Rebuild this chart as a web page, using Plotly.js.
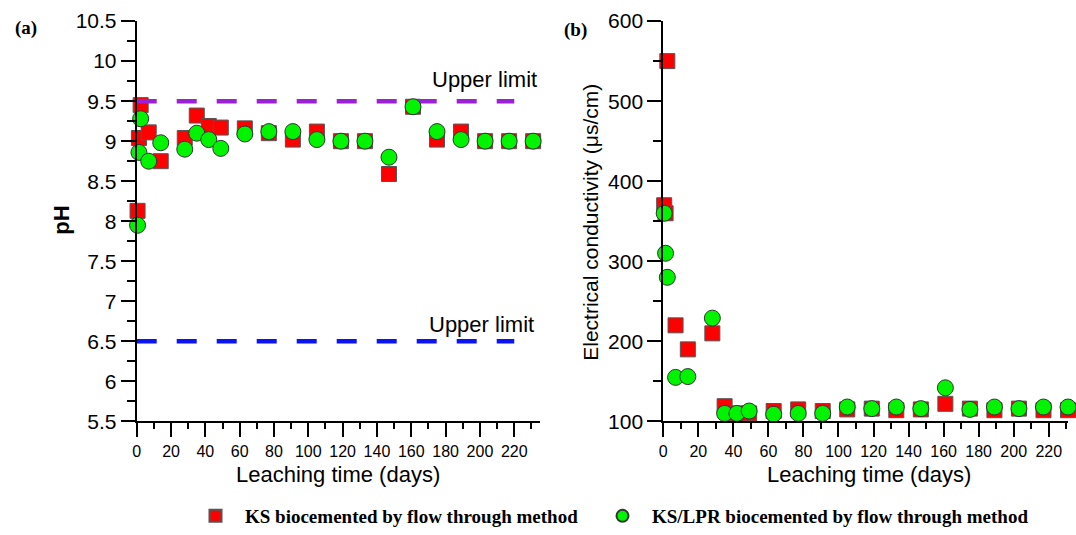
<!DOCTYPE html>
<html>
<head>
<meta charset="utf-8">
<script src="https://cdn.plot.ly/plotly-3.0.1.min.js"></script>
<style>html,body{margin:0;padding:0;background:#fff;}#chart{width:1076px;height:535px;}</style>
</head>
<body>
<div id="chart"></div>
<script>
// Leaching time (days)
const days = [0.5, 1.3, 2.3, 7, 14, 28, 35, 42, 49, 63, 77, 91, 105, 119, 133, 147, 161, 175, 189, 203, 217, 231];
// pH values
const phKS    = [8.13, 9.04, 9.45, 9.11, 8.75, 9.04, 9.32, 9.19, 9.17, 9.16, 9.10, 9.02, 9.12, 9.00, 9.00, 8.59, 9.43, 9.02, 9.12, 9.00, 9.00, 9.00];
const phKSLPR = [7.95, 8.86, 9.28, 8.75, 8.98, 8.90, 9.10, 9.02, 8.91, 9.09, 9.12, 9.12, 9.02, 9.00, 9.00, 8.80, 9.43, 9.12, 9.02, 9.00, 9.00, 9.00];
// Electrical conductivity (µs/cm)
const ecKS    = [370, 360, 550, 220, 190, 210, 119, 110, 110, 113, 115, 113, 115, 116, 114, 115, 122, 116, 114, 116, 114, 114];
const ecKSLPR = [360, 310, 280, 155, 156, 229, 110, 110, 113, 109, 110, 110, 118, 116, 118, 116, 142, 115, 118, 116, 118, 118];
// pH limit lines
const limitDays = [0, 220];
const limitHigh = [9.5, 9.5];
const limitLow  = [6.5, 6.5];
const seriesNames = ["KS biocemented by flow through method", "KS/LPR biocemented by flow through method"];

const SANS = "Liberation Sans, Arial, sans-serif";
const SERIF = "Liberation Serif, Times New Roman, serif";

const redMarker = {symbol: "square", size: 15, color: "#ff0000", line: {color: "#555555", width: 1}};
const greenMarker = {symbol: "circle", size: 16, color: "#00f400", line: {color: "#333333", width: 1}};

const traces = [
  {x: days, y: phKS, xaxis: "x", yaxis: "y", mode: "markers", type: "scatter", name: seriesNames[0], marker: redMarker, cliponaxis: false, showlegend: true, legend: "legend", legendgroup: "a"},
  {x: limitDays, y: limitHigh, xaxis: "x", yaxis: "y", mode: "lines", type: "scatter", line: {color: "#9b20d8", width: 4.5, dash: "20px,20px"}, showlegend: false, hoverinfo: "skip"},
  {x: limitDays, y: limitLow, xaxis: "x", yaxis: "y", mode: "lines", type: "scatter", line: {color: "#0a14f5", width: 4.5, dash: "20px,20px"}, showlegend: false, hoverinfo: "skip"},
  {x: days, y: phKSLPR, xaxis: "x", yaxis: "y", mode: "markers", type: "scatter", name: seriesNames[1], marker: greenMarker, cliponaxis: false, showlegend: true, legend: "legend2", legendgroup: "b"},
  {x: days, y: ecKS, xaxis: "x2", yaxis: "y2", mode: "markers", type: "scatter", name: seriesNames[0], marker: redMarker, cliponaxis: false, showlegend: false, legendgroup: "a"},
  {x: days, y: ecKSLPR, xaxis: "x2", yaxis: "y2", mode: "markers", type: "scatter", name: seriesNames[1], marker: greenMarker, cliponaxis: false, showlegend: false, legendgroup: "b"}
];

const W = 1076, H = 535;
const px = v => v / W;
const py = v => 1 - v / H;

const xCommon = {
  showline: true, linecolor: "#000", linewidth: 2, showgrid: false, zeroline: false,
  ticks: "outside", ticklen: 14, tickwidth: 2, tickcolor: "#000",
  tick0: 0, dtick: 20, tickfont: {family: SANS, size: 16, color: "#000"},
  minor: {ticks: "outside", ticklen: 6, tickwidth: 2, tickcolor: "#000", dtick: 10, showgrid: false},
  fixedrange: true
};
const yCommon = {
  showline: true, linecolor: "#000", linewidth: 2, showgrid: false, zeroline: false,
  ticks: "outside", ticklen: 14, tickwidth: 2, tickcolor: "#000",
  tickfont: {family: SANS, size: 21, color: "#000"}, fixedrange: true
};

const legendFont = {family: SERIF, size: 19, color: "#000", weight: "bold"};

function ann(text, x, y, font, extra) {
  return Object.assign({text: text, x: px(x), y: py(y), xref: "paper", yref: "paper", xanchor: "center", yanchor: "middle", showarrow: false, font: font}, extra || {});
}

const layout = {
  width: W, height: H,
  margin: {l: 0, r: 0, t: 0, b: 0},
  paper_bgcolor: "#fff", plot_bgcolor: "#fff",
  showlegend: true,
  xaxis: Object.assign({}, xCommon, {domain: [px(136.7), px(540)], range: [0, 235], anchor: "y"}),
  yaxis: Object.assign({}, yCommon, {domain: [1 - 423.8 / H, 1 - 21.2 / H], range: [5.5, 10.5], dtick: 0.5, tick0: 5.5, anchor: "x",
    minor: {ticks: "outside", ticklen: 8, tickwidth: 2, tickcolor: "#000", dtick: 0.25, showgrid: false}}),
  xaxis2: Object.assign({}, xCommon, {domain: [px(663.3), px(1068)], range: [0, 231], anchor: "y2"}),
  yaxis2: Object.assign({}, yCommon, {domain: [1 - 423.8 / H, 1 - 21.2 / H], range: [100, 600], dtick: 100, tick0: 100, anchor: "x2",
    minor: {ticks: "outside", ticklen: 8, tickwidth: 2, tickcolor: "#000", dtick: 50, showgrid: false}}),
  legend: {
    orientation: "h", x: px(186), xanchor: "left", y: py(519), yanchor: "middle",
    font: legendFont, bgcolor: "rgba(0,0,0,0)", itemsizing: "constant", itemwidth: 49
  },
  legend2: {
    orientation: "h", x: px(593), xanchor: "left", y: py(519), yanchor: "middle",
    font: legendFont, bgcolor: "rgba(0,0,0,0)", itemsizing: "constant", itemwidth: 49
  },
  annotations: [
    ann("(a)", 26, 28, {family: SERIF, size: 19, color: "#000", weight: "bold"}),
    ann("(b)", 575, 30, {family: SERIF, size: 19, color: "#000", weight: "bold"}),
    ann("Upper limit", 484, 80, {family: SANS, size: 22, color: "#000"}),
    ann("Upper limit", 481.5, 326, {family: SANS, size: 22, color: "#000"}),
    ann("pH", 62, 222, {family: SANS, size: 22, color: "#000", weight: "bold"}, {textangle: -90}),
    ann("Electrical conductivity (μs/cm)", 591, 224, {family: SANS, size: 21, color: "#000"}, {textangle: -90}),
    ann("Leaching time (days)", 338, 477, {family: SANS, size: 22, color: "#000"}),
    ann("Leaching time (days)", 869, 477, {family: SANS, size: 22, color: "#000"})
  ]
};

Plotly.newPlot("chart", traces, layout, {displayModeBar: false, staticPlot: true});
</script>
</body>
</html>
